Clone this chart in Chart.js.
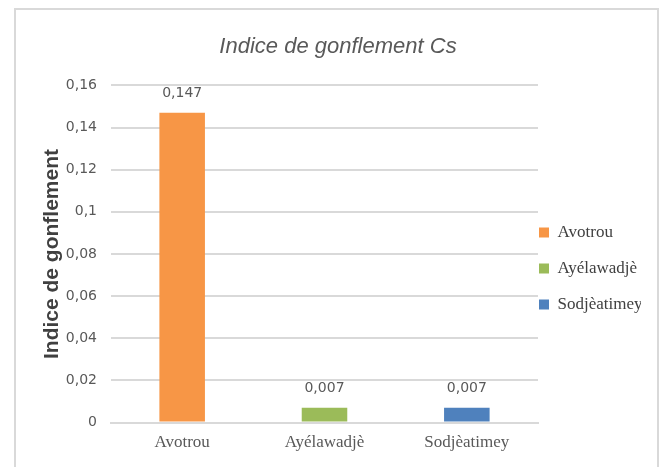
<!DOCTYPE html>
<html>
<head>
<meta charset="utf-8">
<script src="https://cdn.jsdelivr.net/npm/chart.js@4.4.1/dist/chart.umd.min.js"></script>
<style>
  html, body { margin: 0; padding: 0; background: #ffffff; }
  #wrap { position: relative; width: 663px; height: 467px; overflow: hidden; }
  #frame { position: absolute; left: 14px; top: 8px; width: 645px; height: 500px; border: 2px solid #d9d9d9; box-sizing: border-box; }
  canvas { position: absolute; left: 0; top: 0; }
</style>
</head>
<body>
<div id="wrap">
  <div id="frame"></div>
  <canvas id="c" width="663" height="467"></canvas>
</div>
<script>
const categories = ["Avotrou", "Ayélawadjè", "Sodjèatimey"];
const values = [0.147, 0.007, 0.007];
const colors = ["#F79646", "#9BBB59", "#4F81BD"];
const chartTitle = "Indice de gonflement Cs";
const yAxisTitle = "Indice de gonflement";

const fmt = v => String(v).replace('.', ',');

const dataLabels = {
  id: 'dataLabels',
  afterDatasetsDraw(chart) {
    const ctx = chart.ctx;
    const meta = chart.getDatasetMeta(0);
    ctx.save();
    ctx.font = '14px "DejaVu Sans", sans-serif';
    ctx.fillStyle = '#595959';
    ctx.textAlign = 'center';
    ctx.textBaseline = 'middle';
    meta.data.forEach((bar, i) => {
      ctx.fillText(fmt(values[i]), bar.x, bar.y - 19);
    });
    ctx.restore();
  }
};

const legendShift = {
  id: 'legendShift',
  afterLayout(chart) {
    const l = chart.legend;
    if (l) { l.left -= 18; l.right -= 18; l.top += 37; l.bottom += 37; }
  }
};

new Chart(document.getElementById('c'), {
  type: 'bar',
  data: {
    labels: categories,
    datasets: [{
      label: yAxisTitle,
      data: values,
      backgroundColor: colors,
      borderWidth: 0,
      categoryPercentage: 1,
      barPercentage: 0.32
    }]
  },
  options: {
    responsive: false,
    animation: false,
    devicePixelRatio: 1,
    layout: { padding: { left: 17, right: 4, top: 0, bottom: 4 } },
    plugins: {
      title: {
        display: true,
        text: chartTitle,
        color: '#595959',
        font: { family: '"Liberation Sans", sans-serif', size: 22, style: 'italic', weight: 'normal' },
        padding: { top: 34, bottom: 25 }
      },
      legend: {
        position: 'right',
        maxWidth: 121,
        labels: {
          color: '#404040',
          font: { family: '"Liberation Serif", serif', size: 17 },
          boxWidth: 10,
          boxHeight: 10,
          padding: 19,
          generateLabels(chart) {
            return categories.map((c, i) => ({
              text: c,
              fillStyle: colors[i],
              strokeStyle: colors[i],
              lineWidth: 0,
              hidden: false,
              index: i,
              fontColor: '#404040'
            }));
          }
        }
      },
      tooltip: { enabled: false }
    },
    scales: {
      x: {
        grid: { display: false, drawTicks: false },
        border: { display: true, color: '#d9d9d9', width: 2 },
        ticks: {
          color: '#595959',
          font: { family: '"Liberation Serif", serif', size: 17 },
          padding: 10
        }
      },
      y: {
        min: 0,
        max: 0.16,
        afterFit(scale) { scale.width = 94; },
        ticks: {
          stepSize: 0.02,
          color: '#595959',
          font: { family: '"DejaVu Sans", sans-serif', size: 14 },
          padding: 14,
          callback: v => fmt(Math.round(v * 100) / 100)
        },
        grid: { color: '#d9d9d9', lineWidth: 2, drawTicks: false },
        border: { display: false },
        title: {
          display: true,
          text: yAxisTitle,
          color: '#404040',
          font: { family: '"Liberation Sans", sans-serif', size: 21, weight: 'bold' },
          padding: { top: 23, bottom: 0 }
        }
      }
    }
  },
  plugins: [dataLabels, legendShift]
});
</script>
</body>
</html>
